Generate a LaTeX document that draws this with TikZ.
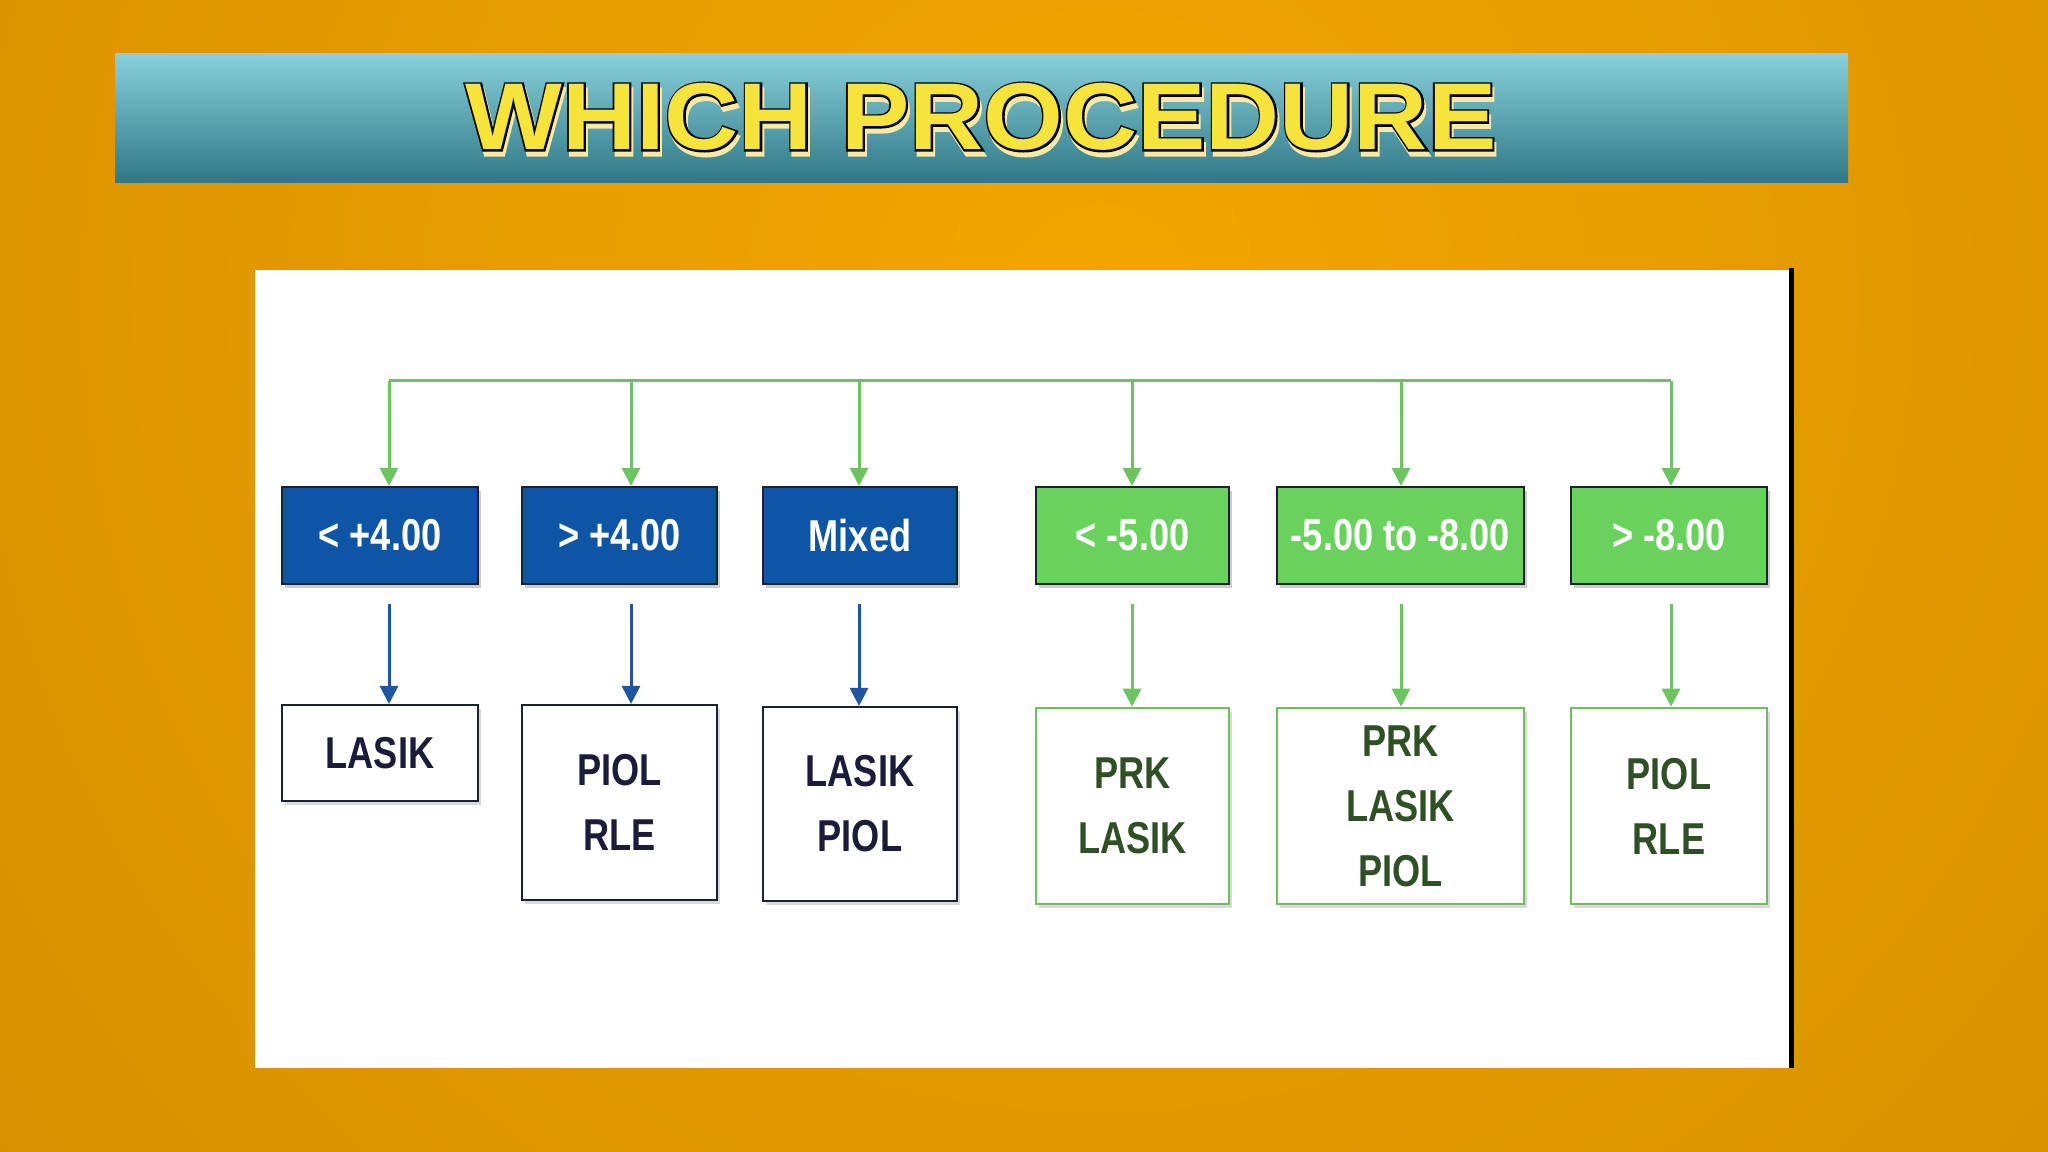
\documentclass[tikz,border=0pt]{standalone}
\usepackage{fontspec}
\usepackage{tikz}
\usetikzlibrary{arrows.meta,shadows,calc}
\newfontfamily\boxfont[FakeStretch=0.81]{Liberation Sans}
\newfontfamily\titlefont[FakeStretch=1.08]{Liberation Sans}
\newfontfamily\titleedge[FakeStretch=1.08,FakeBold=4]{Liberation Sans}
\definecolor{bgbright}{HTML}{F2A600}
\definecolor{bgdark}{HTML}{C88400}
\definecolor{bartop}{HTML}{88D0DA}
\definecolor{barmid}{HTML}{4BB4C6}
\definecolor{barbot}{HTML}{2E7886}
\definecolor{titleyellow}{HTML}{F6E43C}
\definecolor{titleshade}{HTML}{F7E9A8}
\definecolor{bandgray}{HTML}{E9EFF5}
\definecolor{deepblue}{HTML}{0E55A6}
\definecolor{leafgreen}{HTML}{68D25C}
\definecolor{boxline}{HTML}{1C2230}
\definecolor{arrowblue}{HTML}{1E56A4}
\definecolor{arrowgreen}{HTML}{6CC460}
\definecolor{navytext}{HTML}{1B1B3A}
\definecolor{greentext}{HTML}{2F4F25}
\definecolor{greenedge}{HTML}{6DBE5C}
\tikzset{
  titletext/.style={font=\titlefont\bfseries\fontsize{27}{30}\selectfont, inner sep=0pt},
  rangebox/.style={draw=boxline, line width=0.02cm, minimum height=0.97cm, inner sep=0pt,
    text=white, font=\boxfont\bfseries\fontsize{12.7}{15}\selectfont,
    drop shadow={shadow xshift=0.03cm, shadow yshift=-0.04cm, fill=black, opacity=0.2}},
  bluerange/.style={rangebox, fill=deepblue},
  greenrange/.style={rangebox, fill=leafgreen},
  resultbox/.style={fill=white, inner sep=0pt, align=center,
    font=\boxfont\bfseries\fontsize{12.7}{18.5}\selectfont,
    drop shadow={shadow xshift=0.03cm, shadow yshift=-0.04cm, fill=black, opacity=0.15}},
  blueresult/.style={resultbox, draw=boxline, line width=0.02cm, text=navytext},
  greenresult/.style={resultbox, draw=greenedge, line width=0.025cm, text=greentext},
  greenline/.style={draw=arrowgreen, line width=0.03cm},
  greenarrow/.style={greenline, -{Triangle[length=0.18cm,width=0.18cm]}},
  bluearrow/.style={draw=arrowblue, line width=0.03cm, -{Triangle[length=0.18cm,width=0.18cm]}}
}
\begin{document}
\begin{tikzpicture}[x=0.01cm,y=-0.01cm]
\useasboundingbox (0,0) rectangle (2048,1152);
% background
\begin{scope}
\clip (0,0) rectangle (2048,1152);
\shade[inner color=bgbright, outer color=bgdark] (1100,300) circle (2200);
\end{scope}
% title bar
\shade[top color=bartop, middle color=barmid, bottom color=barbot] (115,54) rectangle (1848,183);
\node[titletext, font=\titleedge\bfseries\fontsize{27}{30}\selectfont, text=titleshade] (titleshadow) at (983,122) {WHICH PROCEDURE};
\node[titletext, font=\titleedge\bfseries\fontsize{27}{30}\selectfont, text=black] (titleline) at (981,117) {WHICH PROCEDURE};
\node[titletext, text=titleyellow] (title) at (981,117) {WHICH PROCEDURE};
% white panel
\fill[white] (255,270) rectangle (1789,1068);
\shade[top color=white, middle color=bandgray, bottom color=white] (255,285) rectangle (1789,375);
\draw[black, line width=0.05cm] (1791,268) -- (1791,1068);

% bus
\coordinate (s1) at (389,381);
\coordinate (s2) at (631,381);
\coordinate (s3) at (859,381);
\coordinate (s4) at (1132,381);
\coordinate (s5) at (1401,381);
\coordinate (s6) at (1671,381);
\draw[greenline] (s1) -- (s6);

% ranges
\node[bluerange, minimum width=1.96cm] (t1) at (380,535.5) {< +4.00};
\node[bluerange, minimum width=1.95cm] (t2) at (619.5,535.5) {> +4.00};
\node[bluerange, minimum width=1.94cm] (t3) at (860,535.5) {Mixed};
\node[greenrange, minimum width=1.93cm] (t4) at (1132.5,535.5) {< -5.00};
\node[greenrange, minimum width=2.47cm] (t5) at (1400.5,535.5) {-5.00 to -8.00};
\node[greenrange, minimum width=1.96cm] (t6) at (1669,535.5) {> -8.00};

% procedures
\node[blueresult, minimum width=1.96cm, minimum height=0.96cm] (b1) at (380,753) {LASIK};
\node[blueresult, minimum width=1.95cm, minimum height=1.95cm] (b2) at (619.5,802.5) {PIOL\\RLE};
\node[blueresult, minimum width=1.94cm, minimum height=1.94cm] (b3) at (860,804) {LASIK\\PIOL};
\node[greenresult, minimum width=1.93cm, minimum height=1.96cm] (b4) at (1132.5,806) {PRK\\LASIK};
\node[greenresult, minimum width=2.47cm, minimum height=1.96cm] (b5) at (1400.5,806) {PRK\\LASIK\\PIOL};
\node[greenresult, minimum width=1.96cm, minimum height=1.96cm] (b6) at (1669,806) {PIOL\\RLE};

% arrows
\foreach \i in {1,...,6}
  \draw[greenarrow] (s\i) -- (s\i |- t\i.north);
\foreach \i in {1,2,3}
  \draw[bluearrow] ([yshift=-0.19cm]s\i |- t\i.south) -- (s\i |- b\i.north);
\foreach \i in {4,5,6}
  \draw[greenarrow] ([yshift=-0.19cm]s\i |- t\i.south) -- (s\i |- b\i.north);
\end{tikzpicture}
\end{document}
